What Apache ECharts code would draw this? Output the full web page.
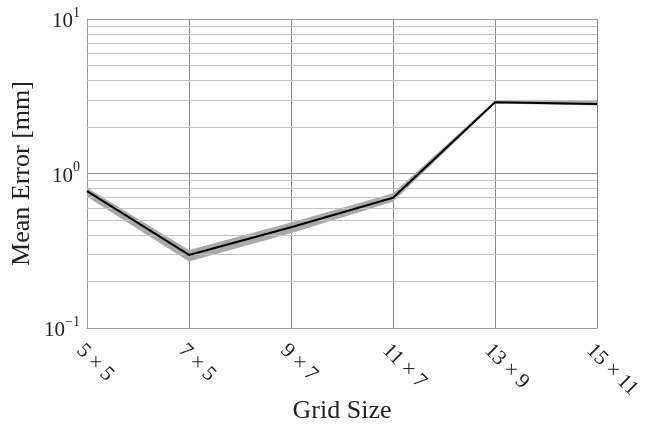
<!DOCTYPE html>
<html>
<head>
<meta charset="utf-8">
<script src="https://cdn.jsdelivr.net/npm/echarts@6/dist/echarts.min.js"></script>
<style>
html,body{margin:0;padding:0;background:#fff;}
#main{width:648px;height:435px;}
</style>
</head>
<body>
<div id="main"></div>
<script>
const categories = ['5 × 5', '7 × 5', '9 × 7', '11 × 7', '13 × 9', '15 × 11'];
const meanError = [0.77, 0.297, 0.449, 0.697, 2.89, 2.82];
const bandLower = [0.708, 0.269, 0.410, 0.657, 2.84, 2.75];
const bandUpper = [0.809, 0.320, 0.481, 0.745, 2.96, 2.97];
const minorTicks = [0.2, 0.3, 0.4, 0.5, 0.6, 0.7, 0.8, 0.9, 2, 3, 4, 5, 6, 7, 8, 9];

const bandDiff = bandUpper.map((u, i) => u - bandLower[i]);
const FONT = '"Liberation Serif", "Times New Roman", serif';

const chart = echarts.init(document.getElementById('main'));
chart.setOption({
  backgroundColor: '#ffffff',
  animation: false,
  grid: { left: 87, right: 51, top: 19, bottom: 107, containLabel: false, outerBoundsMode: 'none' },
  xAxis: {
    type: 'category',
    data: categories,
    boundaryGap: false,
    name: 'Grid Size',
    nameLocation: 'middle',
    nameGap: 70,
    nameMoveOverlap: false,
    nameTextStyle: { fontFamily: FONT, fontSize: 26, color: '#222' },
    axisLine: { show: true, lineStyle: { color: '#999', width: 1 } },
    axisTick: { show: false },
    splitLine: { show: true, lineStyle: { color: '#888', width: 1 } },
    axisLabel: {
      rotate: -45,
      margin: 12,
      verticalAlign: 'top',
      fontFamily: FONT,
      fontSize: 21,
      color: '#222',
      interval: 0
    }
  },
  yAxis: {
    type: 'log',
    logBase: 10,
    min: 0.1,
    max: 10,
    name: 'Mean Error [mm]',
    nameLocation: 'middle',
    nameGap: 52,
    nameMoveOverlap: false,
    nameTextStyle: { fontFamily: FONT, fontSize: 26, color: '#222' },
    axisLine: { show: true, lineStyle: { color: '#999', width: 1 } },
    axisTick: { show: false },
    splitLine: { show: true, lineStyle: { color: '#999', width: 1 } },
    axisLabel: {
      margin: 7,
      formatter: function (v) {
        const e = Math.round(Math.log10(v));
        const s = e < 0 ? '\u2212' + Math.abs(e) : String(e);
        return '{b|10}{s|' + s + '}';
      },
      rich: {
        b: { fontFamily: FONT, fontSize: 21, color: '#222', lineHeight: 26, verticalAlign: 'bottom' },
        s: { fontFamily: FONT, fontSize: 14, color: '#222', lineHeight: 26, verticalAlign: 'top' }
      }
    }
  },
  series: [
    {
      name: 'minor',
      type: 'line',
      data: [],
      silent: true,
      markLine: {
        silent: true,
        symbol: ['none', 'none'],
        label: { show: false },
        lineStyle: { color: '#c4c4c4', width: 1, type: 'solid' },
        data: minorTicks.map(v => ({ yAxis: v }))
      }
    },
    {
      name: 'lower',
      type: 'line',
      data: bandLower,
      stack: 'band',
      symbol: 'none',
      silent: true,
      lineStyle: { opacity: 0 }
    },
    {
      name: 'band',
      type: 'line',
      data: bandDiff,
      stack: 'band',
      symbol: 'none',
      silent: true,
      lineStyle: { opacity: 0 },
      areaStyle: { color: '#aaaaaa', opacity: 1 }
    },
    {
      name: 'Mean Error',
      type: 'line',
      data: meanError,
      symbol: 'none',
      lineStyle: { color: '#000', width: 2 },
      z: 5
    }
  ]
});
</script>
</body>
</html>
